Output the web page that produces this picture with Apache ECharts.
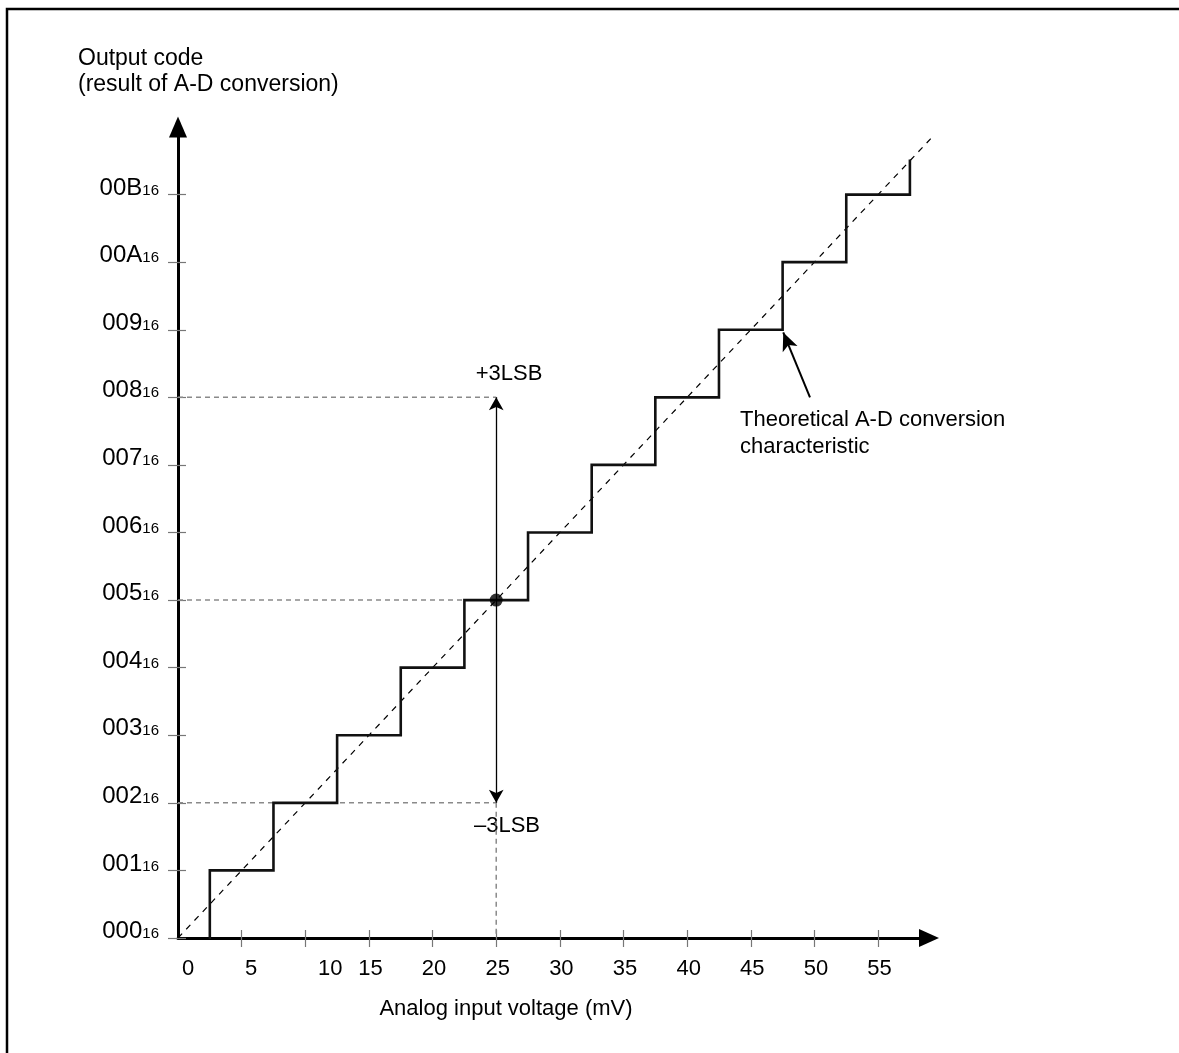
<!DOCTYPE html>
<html><head><meta charset="utf-8">
<script src="https://cdn.jsdelivr.net/npm/echarts@6/dist/echarts.min.js"></script>
<style>html,body{margin:0;padding:0;background:#fff}#c{width:1179px;height:1053px}</style>
</head><body><div id="c"></div>
<script>
// ---- data ----
const xLabelValues = [0, 5, 10, 15, 20, 25, 30, 35, 40, 45, 50, 55];
const xTickValues = [5, 10, 15, 20, 25, 30, 35, 40, 45, 50, 55];
const yCodes = ['000', '001', '002', '003', '004', '005', '006', '007', '008', '009', '00A', '00B'];
const yTickValues = [0, 1, 2, 3, 4, 5, 6, 7, 8, 9, 10, 11];
const stepVoltages = [2.5, 7.5, 12.5, 17.5, 22.5, 27.5, 32.5, 37.5, 42.5, 47.5, 52.5, 57.5];
const stepCodes = [1, 2, 3, 4, 5, 6, 7, 8, 9, 10, 11];
const stepTopEnd = 11.5;
const idealLine = [[0, 0], [59.5, 11.9]];
const refVoltage = 25;
const refCode = 5;
const lsbLow = 2;
const lsbHigh = 8;
const guideLevels = [8, 5, 2];
const annotTail = [49.65, 8.0];
const annotTip = [47.55, 8.96];

// ---- build ----
const stairs = [[stepVoltages[0], 0]];
for (let i = 0; i < stepCodes.length; i++) {
  stairs.push([stepVoltages[i], stepCodes[i]]);
  stairs.push([stepVoltages[i + 1], stepCodes[i]]);
}
stairs.push([stepVoltages[stepVoltages.length - 1], stepTopEnd]);

const FONT = "'Liberation Sans', Arial, sans-serif";
const xShift = {0: 10, 5: 9.5, 10: 25};
const xRich = {};
xLabelValues.forEach(v => {
  const s = xShift[v] !== undefined ? xShift[v] : 1.5;
  xRich['l' + v] = {fontSize: 22, fontFamily: FONT, color: '#000', padding: [0, 0, 0, 2 * s]};
});

const gray = '#8a8a8a';
const guideSeries = guideLevels.map(g => ({
  type: 'line', data: [[0, g], [refVoltage, g]], symbol: 'none', silent: true, z: 1,
  lineStyle: {color: gray, width: 1.5, type: [5, 4]}
}));
guideSeries.push({
  type: 'line', data: [[refVoltage, lsbLow], [refVoltage, 0]], symbol: 'none', silent: true, z: 1,
  lineStyle: {color: gray, width: 1.5, type: [5, 4]}
});

const chart = echarts.init(document.getElementById('c'), null, {renderer: 'canvas'});
const axisCommon = {type: 'value', splitLine: {show: false}};
chart.setOption({
  animation: false,
  backgroundColor: '#fff',
  grid: {left: 178, top: 127, width: 751, height: 811, containLabel: false},
  xAxis: [
    Object.assign({}, axisCommon, {
      min: 0, max: 59, interval: 5,
      axisLine: {show: true, lineStyle: {color: '#000', width: 3}, symbol: ['none', 'triangle'], symbolSize: [18, 20]},
      axisTick: {show: true, inside: false, length: 9, customValues: xTickValues, lineStyle: {color: '#777', width: 1.2}},
      axisLabel: {show: true, margin: 20, customValues: xLabelValues,
        formatter: v => '{l' + v + '|' + v + '}', rich: xRich}
    }),
    Object.assign({}, axisCommon, {
      min: 0, max: 59, interval: 5, position: 'bottom',
      axisLine: {show: false},
      axisTick: {show: true, inside: true, length: 8, customValues: xTickValues, lineStyle: {color: '#777', width: 1.2}},
      axisLabel: {show: false}
    })
  ],
  yAxis: [
    Object.assign({}, axisCommon, {
      min: 0, max: 12, interval: 1,
      axisLine: {show: true, lineStyle: {color: '#000', width: 3}, symbol: ['none', 'triangle'], symbolSize: [18, 21]},
      axisTick: {show: true, inside: false, length: 10, customValues: yTickValues, lineStyle: {color: '#777', width: 1.2}},
      axisLabel: {show: true, margin: 19, customValues: yTickValues, padding: [0, 0, 13, 0],
        formatter: v => '{m|' + yCodes[v] + '}{s|16}',
        rich: {
          m: {fontSize: 24, lineHeight: 24, fontFamily: FONT, color: '#000', verticalAlign: 'bottom'},
          s: {fontSize: 15, lineHeight: 15, fontFamily: FONT, color: '#000', verticalAlign: 'bottom', padding: [0, 0, 2, 0]}
        }}
    }),
    Object.assign({}, axisCommon, {
      min: 0, max: 12, interval: 1, position: 'left',
      axisLine: {show: false},
      axisTick: {show: true, inside: true, length: 8, customValues: yTickValues, lineStyle: {color: '#777', width: 1.2}},
      axisLabel: {show: false}
    })
  ],
  series: guideSeries.concat([
    {type: 'line', data: idealLine, symbol: 'none', silent: true, z: 2,
      lineStyle: {color: '#000', width: 1.2, type: [6, 6]}},
    {type: 'line', data: stairs, symbol: 'none', silent: true, z: 3,
      lineStyle: {color: '#111', width: 2.6, join: 'miter', cap: 'square'}},
    {type: 'scatter', data: [[refVoltage, refCode]], symbol: 'circle', symbolSize: 13, silent: true, z: 5,
      itemStyle: {color: '#000'},
      markLine: {
        silent: true, animation: false, label: {show: false},
        data: [
          [{coord: [refVoltage, lsbLow], symbol: 'arrow', symbolSize: [11, 13], lineStyle: {color: '#000', width: 1.3, type: 'solid'}},
           {coord: [refVoltage, lsbHigh], symbol: 'arrow', symbolSize: [11, 13]}],
          [{coord: annotTail, symbol: 'none', lineStyle: {color: '#000', width: 2, type: 'solid'}},
           {coord: annotTip, symbol: 'arrow', symbolSize: [12, 18]}]
        ]
      }}
  ]),
  graphic: [
    {type: 'polyline', silent: true, z: 10, shape: {points: [[7, 1053], [7, 9], [1179, 9]]},
      style: {stroke: '#000', lineWidth: 2.5, fill: null}},
    {type: 'text', left: 78, top: 47, silent: true, style: {text: 'Output code', font: '23px ' + FONT, fill: '#000'}},
    {type: 'text', left: 78, top: 73, silent: true, style: {text: '(result of A-D conversion)', font: '23px ' + FONT, fill: '#000'}},
    {type: 'text', x: 509, y: 374, silent: true, style: {text: '+3LSB', font: '22px ' + FONT, fill: '#000', align: 'center', verticalAlign: 'middle'}},
    {type: 'text', x: 507, y: 826, silent: true, style: {text: '\u20133LSB', font: '22px ' + FONT, fill: '#000', align: 'center', verticalAlign: 'middle'}},
    {type: 'text', x: 740, y: 406, silent: true, style: {text: 'Theoretical A-D conversion\ncharacteristic', font: '22px ' + FONT, lineHeight: 27, fill: '#000', align: 'left', verticalAlign: 'top'}},
    {type: 'text', x: 506, y: 1009, silent: true, style: {text: 'Analog input voltage (mV)', font: '22px ' + FONT, fill: '#000', align: 'center', verticalAlign: 'middle'}}
  ]
});
</script></body></html>
